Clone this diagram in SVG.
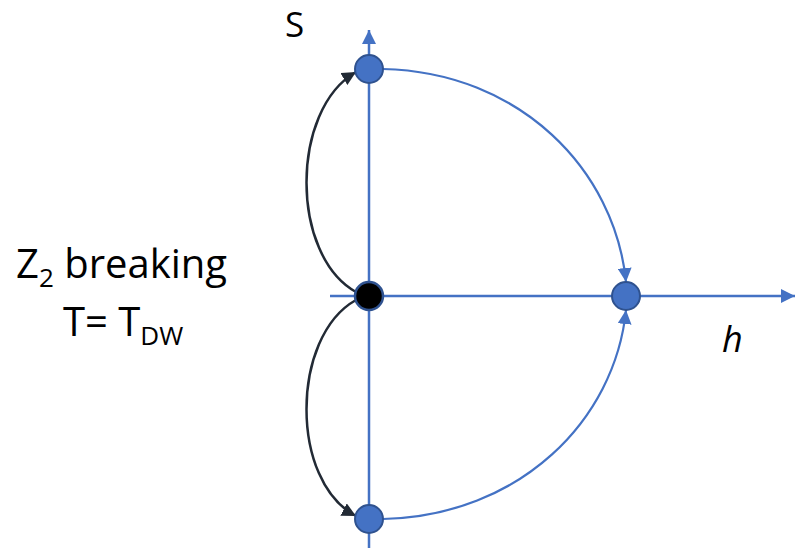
<svg xmlns="http://www.w3.org/2000/svg" width="795" height="552" viewBox="0 0 795 552">
<style>
.ax{stroke:#4472C4;stroke-width:2.5;fill:none}
.blue{stroke:#4472C4;stroke-width:2.2;fill:none}
.dark{stroke:#222A35;stroke-width:2.5;fill:none}
.node{fill:#4472C4;stroke:#2F528F;stroke-width:2}
.txt{font-family:"Open Sans","Liberation Sans",sans-serif;fill:#000}
</style>
<defs>
<marker id="abig" viewBox="0 0 10 10" refX="10" refY="5" markerWidth="14" markerHeight="14" orient="auto" markerUnits="userSpaceOnUse">
<path d="M0,0 L10,5 L0,10 Z" fill="#4472C4"/>
</marker>
<marker id="ad" viewBox="0 0 10 10" refX="10" refY="5" markerWidth="14" markerHeight="14" orient="auto" markerUnits="userSpaceOnUse">
<path d="M0,0 L10,5 L0,10 Z" fill="#222A35"/>
</marker>
</defs>
<g id="connectors">
<path class="ax" d="M369,548 L369,30" marker-end="url(#abig)"/>
<path class="ax" d="M330,296 L795,296" marker-end="url(#abig)"/>
<path class="blue" d="M383,69 C520,72 615,170 626,282" marker-end="url(#abig)"/>
<path class="blue" d="M383,519 C520,516 615,420 626,310" marker-end="url(#abig)"/>
<path class="dark" d="M356,292 C290,255 290,110 356,72" marker-end="url(#ad)"/>
<path class="dark" d="M356,300 C290,337 290,482 356,516" marker-end="url(#ad)"/>
</g>
<g id="node-top"><circle class="node" cx="369" cy="69" r="14"/></g>
<g id="node-center"><circle cx="369" cy="296" r="14" fill="#000" stroke="#2F528F" stroke-width="2.5"/></g>
<g id="node-right"><circle class="node" cx="626" cy="296" r="14"/></g>
<g id="node-bottom"><circle class="node" cx="369" cy="519" r="14"/></g>
<g id="labels">
<text class="txt" x="285" y="37" font-size="35">S</text>
<text class="txt" x="16" y="278" font-size="40">Z<tspan font-size="26" dy="9">2</tspan><tspan dy="-9"> breaking</tspan></text>
<text class="txt" x="63" y="336" font-size="40">T= T<tspan font-size="26" dy="9">DW</tspan></text>
<text class="txt" x="722" y="352" font-size="36" font-style="italic">h</text>
</g>
</svg>
